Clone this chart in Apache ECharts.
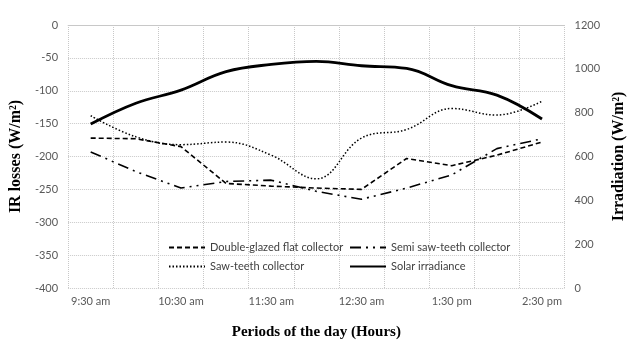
<!DOCTYPE html>
<html>
<head>
<meta charset="utf-8">
<script src="https://cdn.jsdelivr.net/npm/echarts@6/dist/echarts.min.js"></script>
<style>
  html, body { margin: 0; padding: 0; background: #fff; }
  #chart { width: 635px; height: 346px; }
</style>
</head>
<body>
<div id="chart"></div>
<script>
const periods = ['9:30 am', '10:00 am', '10:30 am', '11:00 am', '11:30 am', '12:00 pm',
  '12:30 am', '1:00 pm', '1:30 pm', '2:00 pm', '2:30 pm']

// IR losses (W/m²), left axis
const doubleGlazed = [-172, -173, -185, -241, -245, -248, -250, -203, -214, -198, -178]
const semiSawTeeth = [-193, -223, -248, -238, -236, -253, -265, -248, -228, -188, -173]
const sawTeeth = [-138, -170, -182, -178, -198, -234, -172, -159, -127, -137, -116]

// Solar irradiance (W/m²), right axis
const solarIrradiance = [748, 843, 903, 987, 1020, 1034, 1014, 1002, 923, 880, 771]

const labelFont = 'Lato, "Noto Sans", sans-serif'
const titleFont = '"Liberation Serif", "DejaVu Serif", serif'
const gridGray = '#c8c8c8'

const chart = echarts.init(document.getElementById('chart'))

const legendText = { fontFamily: labelFont, fontSize: 11, color: '#404040' }

chart.setOption({
  animation: false,
  grid: { left: 68, right: 69, top: 25, bottom: 58 },
  legend: [
    {
      orient: 'vertical',
      left: 163,
      top: 237,
      itemWidth: 36,
      itemHeight: 8,
      itemGap: 8,
      itemStyle: { opacity: 0 },
      textStyle: legendText,
      data: ['Double-glazed flat collector', 'Saw-teeth collector']
    },
    {
      orient: 'vertical',
      left: 344,
      top: 237,
      itemWidth: 36,
      itemHeight: 8,
      itemGap: 8,
      itemStyle: { opacity: 0 },
      textStyle: legendText,
      data: ['Semi saw-teeth collector', 'Solar irradiance']
    }
  ],
  xAxis: {
    type: 'category',
    data: periods,
    boundaryGap: true,
    name: 'Periods of the day (Hours)',
    nameLocation: 'middle',
    nameGap: 37,
    nameTextStyle: { fontFamily: titleFont, fontWeight: 'bold', fontSize: 15, color: '#000' },
    axisLine: { lineStyle: { color: gridGray } },
    axisTick: { show: false },
    axisLabel: { interval: 1, fontFamily: labelFont, fontSize: 11, color: '#595959', margin: 8 },
    splitLine: { show: true, interval: 0, lineStyle: { color: gridGray, type: 'dotted' } }
  },
  yAxis: [
    {
      type: 'value',
      min: -400,
      max: 0,
      interval: 50,
      name: 'IR losses (W/m²)',
      nameLocation: 'middle',
      nameGap: 41,
      nameRotate: 90,
      nameTextStyle: { fontFamily: titleFont, fontWeight: 'bold', fontSize: 16, color: '#000' },
      axisLine: { show: false },
      axisTick: { show: false },
      axisLabel: { fontFamily: labelFont, fontSize: 11, color: '#595959', margin: 10 },
      splitLine: { lineStyle: { color: gridGray, type: 'dotted' } }
    },
    {
      type: 'value',
      min: 0,
      max: 1200,
      interval: 200,
      name: 'Irradiation (W/m²)',
      nameLocation: 'middle',
      nameGap: 34,
      nameRotate: 90,
      nameTextStyle: { fontFamily: titleFont, fontWeight: 'bold', fontSize: 16, color: '#000' },
      axisLine: { show: false },
      axisTick: { show: false },
      axisLabel: {
        fontFamily: labelFont, fontSize: 11, color: '#595959', margin: 10,
        formatter: (v) => String(v)
      },
      splitLine: { show: false }
    }
  ],
  series: [
    {
      name: 'Double-glazed flat collector',
      type: 'line',
      data: doubleGlazed,
      showSymbol: false,
      symbol: 'none',
      lineStyle: { color: '#000', width: 1.6, type: [5, 3] },
      itemStyle: { color: '#000' }
    },
    {
      name: 'Semi saw-teeth collector',
      type: 'line',
      data: semiSawTeeth,
      showSymbol: false,
      symbol: 'none',
      lineStyle: { color: '#000', width: 1.6, type: [11, 5, 2, 5, 2, 5] },
      itemStyle: { color: '#000' }
    },
    {
      name: 'Saw-teeth collector',
      type: 'line',
      data: sawTeeth,
      smooth: 0.4,
      showSymbol: false,
      symbol: 'none',
      lineStyle: { color: '#000', width: 1.5, type: [1.5, 2] },
      itemStyle: { color: '#000' }
    },
    {
      name: 'Solar irradiance',
      type: 'line',
      yAxisIndex: 1,
      data: solarIrradiance,
      smooth: 0.4,
      showSymbol: false,
      symbol: 'none',
      lineStyle: { color: '#000', width: 2.8 },
      itemStyle: { color: '#000' }
    }
  ]
})
</script>
</body>
</html>
